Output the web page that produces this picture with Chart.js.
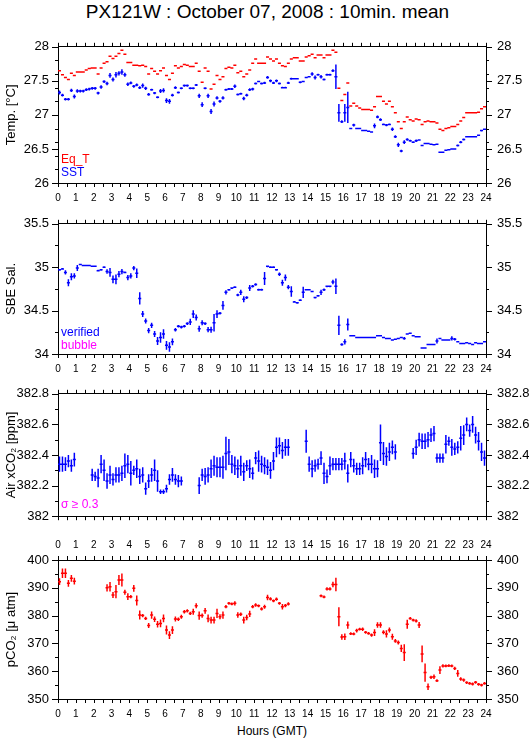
<!DOCTYPE html>
<html>
<head>
<meta charset="utf-8">
<script src="https://cdn.jsdelivr.net/npm/chart.js@4.4.0/dist/chart.umd.min.js"></script>
<style>
  body { margin: 0; background: #fff; width: 529px; height: 739px; position: relative; overflow: hidden;
         font-family: "Liberation Sans", Arial, Helvetica, sans-serif; }
  canvas { position: absolute; left: 0; }
  .txt { position: absolute; white-space: nowrap; line-height: 14px; font-size: 12px; z-index: 5; }
  #title { position: absolute; left: 0; width: 535px; text-align: center; top: 2px; font-size: 19px; line-height: 20px; }
  #xlab { position: absolute; left: 0; width: 544px; text-align: center; top: 724px; font-size: 12px; line-height: 14px; }
</style>
</head>
<body>
<div id="title">PX121W : October 07, 2008 : 10min. mean</div>
<canvas id="c1" width="529" height="177" style="top:28px"></canvas>
<canvas id="c2" width="529" height="170" style="top:205px"></canvas>
<canvas id="c3" width="529" height="160" style="top:375px"></canvas>
<canvas id="c4" width="529" height="185" style="top:535px"></canvas>
<div class="txt" style="left:61px;top:152px;color:#ff0000">Eq_T</div>
<div class="txt" style="left:61px;top:165px;color:#0000ff">SST</div>
<div class="txt" style="left:61px;top:325px;color:#0000ff">verified</div>
<div class="txt" style="left:61px;top:338px;color:#ff00ff">bubble</div>
<div class="txt" style="left:61px;top:497px;color:#ff00ff">σ ≥ 0.3</div>
<div id="xlab">Hours (GMT)</div>
<script>
// 10-minute bins, bin i centred at (i + 0.5) / 6 hours
const hourLabels = [0,1,2,3,4,5,6,7,8,9,10,11,12,13,14,15,16,17,18,19,20,21,22,23,24];

const tempTicks = [26, 26.5, 27, 27.5, 28];
const salTicks = [34, 34.5, 35, 35.5];
const xco2Ticks = [382, 382.2, 382.4, 382.6, 382.8];
const pco2Ticks = [350, 360, 370, 380, 390, 400];

const eqT = [
  27.65,27.59,27.55,27.52,27.61,27.58,27.63,27.63,27.63,27.66,
  27.68,27.69,27.69,27.60,27.69,27.76,27.78,27.86,27.83,27.86,
  27.90,27.95,27.89,27.77,27.77,27.73,27.73,27.72,27.73,27.71,
  27.60,27.68,27.64,27.60,27.65,27.69,27.58,27.52,27.61,27.72,
  27.69,27.71,27.74,27.73,27.71,27.71,27.76,27.64,27.48,27.69,
  27.64,27.38,27.45,27.58,27.52,27.56,27.68,27.70,27.69,27.73,
  27.62,27.64,27.56,27.60,27.66,27.76,27.82,27.76,27.76,27.76,
  27.85,27.82,27.79,27.82,27.76,27.72,27.71,27.76,27.82,27.84,
  27.84,27.79,27.79,27.85,27.87,27.89,27.84,27.88,27.88,27.84,
  27.88,27.88,27.95,27.92,27.39,27.21,27.30,27.47,27.13,27.17,
  27.13,27.10,27.08,27.08,27.08,27.07,27.12,27.27,27.27,27.20,
  27.16,27.20,27.12,27.03,26.90,26.80,26.90,26.97,26.93,26.91,
  26.94,26.93,26.86,26.90,26.91,26.90,26.90,26.88,26.79,26.77,
  26.80,26.81,26.83,26.83,26.86,26.91,26.96,27.03,27.03,27.03,
  27.03,27.04,27.09,27.12
];

const sst = [
  27.33,27.29,27.23,27.23,27.36,27.27,27.35,27.35,27.35,27.37,
  27.38,27.39,27.39,27.32,27.41,27.49,27.46,27.58,27.52,27.59,
  27.61,27.63,27.59,27.45,27.47,27.42,27.44,27.40,27.43,27.39,
  27.30,27.37,27.32,27.26,27.35,27.36,27.21,27.20,27.29,27.40,
  27.33,27.39,27.43,27.43,27.39,27.39,27.44,27.28,27.15,27.39,
  27.28,27.05,27.16,27.25,27.20,27.25,27.37,27.38,27.38,27.42,
  27.30,27.31,27.24,27.29,27.37,27.38,27.46,27.49,27.46,27.47,
  27.55,27.50,27.47,27.50,27.46,27.40,27.40,27.47,27.53,27.53,
  27.53,27.48,27.49,27.55,27.56,27.60,27.55,27.59,27.56,27.52,
  27.59,27.59,27.65,27.56,27.03,26.90,27.03,27.11,26.80,26.85,
  26.80,26.80,26.77,26.77,26.76,26.75,26.84,26.97,26.93,26.86,
  26.85,26.86,26.79,26.68,26.56,26.47,26.60,26.64,26.62,26.60,
  26.62,26.63,26.55,26.58,26.58,26.57,26.56,26.57,26.45,26.45,
  26.48,26.49,26.50,26.50,26.55,26.60,26.64,26.68,26.68,26.68,
  26.68,26.70,26.77,26.79
];
const sstErr = [
  0.03,0.02,0.02,0.02,0.025,0.03,0.025,0.02,0.02,0.02,
  0.02,0.02,0.02,0.02,0.025,0.02,0.025,0.035,0.03,0.04,
  0.03,0.04,0.03,0.025,0.02,0.02,0.02,0.02,0.03,0.025,
  0.02,0.015,0.015,0.015,0.03,0.03,0.035,0.035,0.02,0.02,
  0.015,0.015,0.015,0.015,0.015,0.015,0.015,0.03,0.035,0.015,
  0.03,0.035,0.035,0.025,0.02,0.025,0.015,0.015,0.015,0.025,
  0.015,0.015,0.025,0.02,0.02,0.02,0.015,0.012,0.015,0.015,
  0.02,0.02,0.015,0.02,0.015,0.012,0.012,0.015,0.015,0.012,
  0.012,0.015,0.012,0.012,0.012,0.025,0.03,0.015,0.025,0.015,
  0.015,0.015,0.02,0.18,0.13,0.02,0.13,0.23,0.01,0.02,
  0.01,0.01,0.01,0.01,0.01,0.01,0.035,0.02,0.02,0.012,
  0.015,0.012,0.025,0.02,0.03,0.02,0.028,0.018,0.015,0.012,
  0.018,0.01,0.01,0.01,0.01,0.01,0.01,0.01,0.01,0.01,
  0.01,0.01,0.01,0.01,0.015,0.015,0.015,0.01,0.01,0.01,
  0.01,0.01,0.012,0.01
];

const sal = [
  34.97,34.98,34.94,34.82,34.89,34.90,34.99,35.03,35.02,35.02,
  35.02,35.01,35.01,34.96,34.97,35.00,34.95,34.94,34.86,34.86,
  34.92,34.95,34.94,34.88,34.90,34.99,34.93,34.64,34.46,34.38,
  34.27,34.33,34.23,34.15,34.19,34.23,34.10,34.08,34.14,34.28,
  34.32,34.31,34.32,34.35,34.37,34.46,34.42,34.29,34.36,34.35,
  34.28,34.28,34.36,34.46,34.47,34.56,34.71,34.74,34.76,34.77,
  34.68,34.71,34.63,34.65,34.76,34.78,34.80,34.74,34.74,34.87,
  35.01,35.00,35.00,34.97,34.92,34.82,34.88,34.77,34.72,34.60,
  34.59,34.62,34.71,34.74,34.74,34.72,34.65,34.67,34.71,34.74,
  34.78,34.78,34.83,34.78,34.33,34.11,34.14,34.34,34.21,34.21,
  34.19,34.19,34.19,34.19,34.19,34.19,34.19,34.21,34.21,34.19,
  34.18,34.18,34.16,34.17,34.18,34.19,34.18,34.23,34.24,34.21,
  34.20,34.20,34.07,34.07,34.11,34.11,34.11,34.15,34.18,34.16,
  34.16,34.16,34.18,34.17,34.14,34.12,34.12,34.13,34.12,34.11,
  34.13,34.12,34.12,34.14
];
const salErr = [
  0.01,0.01,0.025,0.04,0.04,0.03,0.035,0.008,0.008,0.008,
  0.008,0.008,0.008,0.01,0.01,0.01,0.025,0.05,0.045,0.055,
  0.035,0.03,0.01,0.03,0.03,0.025,0.055,0.07,0.035,0.03,
  0.03,0.03,0.035,0.045,0.06,0.055,0.05,0.055,0.04,0.02,
  0.015,0.015,0.015,0.015,0.035,0.045,0.035,0.035,0.03,0.015,
  0.03,0.035,0.1,0.045,0.015,0.05,0.025,0.01,0.01,0.01,
  0.015,0.03,0.035,0.015,0.035,0.015,0.015,0.012,0.012,0.075,
  0.01,0.01,0.01,0.01,0.02,0.035,0.035,0.025,0.06,0.01,
  0.01,0.01,0.065,0.008,0.008,0.008,0.01,0.01,0.03,0.015,
  0.01,0.01,0.025,0.09,0.11,0.015,0.03,0.07,0.008,0.008,
  0.008,0.008,0.008,0.008,0.008,0.008,0.008,0.008,0.008,0.008,
  0.008,0.008,0.008,0.008,0.008,0.008,0.015,0.008,0.008,0.008,
  0.008,0.008,0.008,0.008,0.008,0.008,0.008,0.03,0.008,0.008,
  0.008,0.008,0.025,0.015,0.008,0.008,0.008,0.008,0.008,0.008,
  0.008,0.008,0.008,0.008
];

const xco2 = [
  382.34,382.34,382.34,382.36,382.33,382.37,null,null,null,null,
  null,382.27,382.26,382.25,382.34,382.30,382.23,382.27,382.24,382.27,
  382.27,382.28,382.33,382.34,382.28,382.30,382.31,382.26,382.27,382.18,
  382.23,382.27,382.30,382.23,382.16,382.16,382.18,382.24,382.27,382.24,
  382.23,382.23,null,null,null,null,null,382.20,382.27,382.26,
  382.27,382.31,382.33,382.32,382.32,382.32,382.41,382.42,382.34,382.33,
  382.31,382.33,382.29,382.33,382.31,382.28,382.38,382.36,382.34,382.33,
  382.32,382.30,382.36,382.45,382.46,382.43,382.45,382.45,null,null,
  null,null,null,382.49,382.34,382.31,382.33,382.34,382.38,382.28,
  382.26,382.33,382.34,382.34,382.34,382.34,382.36,382.28,382.37,382.33,
  382.31,382.31,382.33,382.37,382.34,382.34,382.31,382.31,382.48,382.41,
  382.39,382.42,382.45,382.42,null,null,null,null,null,382.41,
  382.45,382.50,382.49,382.49,382.50,382.53,382.54,382.38,382.38,382.38,
  382.47,382.49,382.45,382.44,382.45,382.51,382.53,382.60,382.56,382.60,
  382.53,382.49,382.42,382.38
];
const xco2Err = [
  0.05,0.05,0.045,0.04,0.04,0.045,null,null,null,null,
  null,0.04,0.03,0.06,0.06,0.07,0.05,0.06,0.04,0.05,
  0.05,0.05,0.08,0.06,0.08,0.03,0.06,0.05,0.05,0.04,
  0.045,0.045,0.07,0.07,0.015,0.015,0.025,0.035,0.045,0.035,
  0.04,0.03,null,null,null,null,null,0.055,0.04,0.055,
  0.05,0.06,0.065,0.065,0.065,0.075,0.11,0.085,0.06,0.06,
  0.06,0.065,0.06,0.035,0.06,0.04,0.04,0.07,0.055,0.055,
  0.05,0.055,0.06,0.065,0.055,0.055,0.055,0.055,null,null,
  null,null,null,0.075,0.05,0.055,0.04,0.035,0.045,0.07,
  0.045,0.06,0.04,0.04,0.04,0.04,0.055,0.06,0.05,0.045,
  0.04,0.04,0.055,0.05,0.04,0.06,0.06,0.055,0.12,0.075,
  0.06,0.06,0.045,0.05,null,null,null,null,null,0.035,
  0.05,0.045,0.05,0.05,0.05,0.045,0.05,0.03,0.03,0.03,
  0.06,0.03,0.055,0.04,0.04,0.08,0.065,0.045,0.04,0.055,
  0.055,0.06,0.06,0.05
];

const pco2 = [
  392.2,395.2,395.2,391.6,393.4,392.4,null,null,null,null,
  null,null,null,null,null,null,390.0,390.4,387.4,388.6,
  392.8,392.8,388.4,386.8,386.8,389.8,385.4,380.2,380.0,379.0,
  376.4,380.2,378.7,376.9,377.2,379.0,374.8,373.0,374.8,378.8,
  378.7,379.6,381.4,381.7,380.8,381.4,383.5,380.0,380.0,381.7,
  379.0,378.4,378.4,380.8,379.6,380.2,383.2,384.4,384.2,384.4,
  380.2,380.5,378.4,379.3,380.6,383.2,383.8,383.5,382.4,383.2,
  386.5,386.0,385.3,385.9,384.4,383.2,383.6,384.2,null,null,
  null,null,null,null,null,null,null,null,387.1,386.7,
  389.6,389.6,391.2,391.2,379.6,372.3,372.4,376.6,373.5,373.4,
  374.6,375.1,375.1,374.0,373.6,373.0,373.9,376.6,376.6,374.0,
  373.4,374.8,372.4,370.9,370.3,368.2,366.7,376.9,379.0,378.4,
  378.1,376.6,366.2,359.5,354.4,357.8,358.0,356.6,360.4,361.9,
  361.9,362.0,361.9,361.0,359.2,357.2,356.8,355.9,355.6,355.4,
  356.0,355.3,355.0,355.6
];
const pco2Err = [
  1.2,1.7,1.7,1.2,1.2,1.2,null,null,null,null,
  null,null,null,null,null,null,1.3,1.7,1.1,2.4,
  1.8,2.3,0.9,1.2,0.6,1.2,1.8,1.6,0.6,0.6,
  0.9,1.3,1.0,1.2,1.4,1.4,1.6,1.4,1.4,0.9,
  0.6,0.7,0.6,0.6,0.6,1.1,0.9,1.5,0.8,1.0,
  1.4,1.2,1.2,1.7,0.9,1.3,0.6,0.5,0.5,0.8,
  1.0,0.6,1.2,1.0,1.1,0.6,0.6,0.5,0.6,0.7,
  1.0,0.6,0.5,0.6,0.5,1.0,0.6,0.6,null,null,
  null,null,null,null,null,null,null,null,0.5,0.5,
  0.6,0.6,1.0,2.4,3.4,1.0,1.2,1.3,0.5,0.5,
  0.7,0.5,0.6,0.5,0.5,0.6,1.2,1.0,1.0,0.7,
  1.3,0.9,1.1,0.7,0.7,1.3,3.0,1.6,0.5,0.5,
  0.6,1.1,3.0,3.3,1.2,0.6,0.8,0.5,1.4,0.6,
  0.5,0.5,0.5,0.6,1.2,0.6,0.6,0.5,0.5,0.5,
  0.5,0.5,0.5,0.5
];

Chart.defaults.font.family = '"Liberation Sans", Arial, Helvetica, sans-serif';
Chart.defaults.color = '#000';

const HALF_BIN = 0.085;

// each value becomes a horizontal bar across its bin, plus a vertical error bar
function crossPoints(values, errs) {
  const pts = [];
  values.forEach((v, i) => {
    if (v === null) return;
    const t = (i + 0.5) / 6;
    pts.push({x: t - HALF_BIN, y: v}, {x: t + HALF_BIN, y: v}, {x: t, y: null});
    if (errs && errs[i]) {
      pts.push({x: t, y: v - errs[i]}, {x: t, y: v + errs[i]}, {x: t, y: null});
    }
  });
  return pts;
}

function steps(from, to, step) {
  const out = [];
  for (let v = from; v <= to + 1e-9; v += step) out.push(Math.round(v * 1000) / 1000);
  return out;
}
const near = (list, v) => list.some(m => Math.abs(m - v) < 1e-6);

const hourTickVals = steps(0, 24, 0.5);

function makePanel(id, p) {
  const yTickVals = steps(p.min, p.max, p.minorStep).concat(p.major)
    .filter((v, i, a) => a.findIndex(w => Math.abs(w - v) < 1e-6) === i).sort((a, b) => a - b);

  const xScale = (pos, labels, h) => ({
    type: 'linear', position: pos, min: 0, max: 24,
    afterBuildTicks: s => { s.ticks = hourTickVals.map(v => ({value: v})); },
    afterFit: s => { s.height = h; },
    grid: {drawOnChartArea: false, drawTicks: false},
    border: {display: true, color: '#000', width: 1},
    ticks: {display: labels, autoSkip: false, maxRotation: 0, minRotation: 0, padding: 9,
            font: {size: 10}, callback: v => near(hourLabels, v) ? String(v) : ''}
  });
  const yScale = (pos, w) => ({
    type: 'linear', position: pos, min: p.min, max: p.max,
    afterBuildTicks: s => { s.ticks = yTickVals.map(v => ({value: v})); },
    afterFit: s => { s.width = w; },
    grid: {drawOnChartArea: false, drawTicks: false},
    border: {display: true, color: '#000', width: 1},
    ticks: {autoSkip: false, padding: pos === 'left' ? 9 : 11, font: {size: 13},
            callback: v => near(p.major, v) ? String(v) : ''},
    title: {display: pos === 'left', text: p.title, font: {size: 13}, padding: {top: 4, bottom: 0}}
  });

  const outerTicks = {
    id: 'outerTicks',
    afterDraw(chart) {
      const ctx = chart.ctx;
      ctx.save();
      ctx.strokeStyle = '#000';
      ctx.lineWidth = 1;
      ctx.beginPath();
      Object.values(chart.scales).forEach(s => {
        const horiz = s.isHorizontal();
        s.ticks.forEach(t => {
          const px = Math.round(s.getPixelForValue(t.value)) + 0.5;
          const len = horiz ? 4 : (near(p.major, t.value) ? 6 : 3);
          if (s.position === 'left') { ctx.moveTo(s.right, px); ctx.lineTo(s.right - len, px); }
          else if (s.position === 'right') { ctx.moveTo(s.left, px); ctx.lineTo(s.left + len, px); }
          else if (s.position === 'bottom') { ctx.moveTo(px, s.top); ctx.lineTo(px, s.top + len); }
          else { ctx.moveTo(px, s.bottom); ctx.lineTo(px, s.bottom - len); }
        });
      });
      ctx.stroke();
      ctx.restore();
    }
  };

  return new Chart(document.getElementById(id), {
    type: 'scatter',
    data: {
      datasets: p.series.map(s => ({
        data: crossPoints(s.values, s.errs),
        showLine: true, spanGaps: false, pointRadius: 0, pointHoverRadius: 0,
        borderColor: s.color, borderWidth: 1.5, tension: 0,
        xAxisID: 'x', yAxisID: 'y'
      }))
    },
    options: {
      responsive: false, animation: false, devicePixelRatio: 1,
      layout: {padding: 0},
      plugins: {legend: {display: false}, tooltip: {enabled: false}},
      scales: {
        x: xScale('bottom', p.bottomLabels, p.bottomH),
        x2: xScale('top', p.topLabels, p.topH),
        y: yScale('left', 58),
        y2: yScale('right', 43)
      }
    },
    plugins: [outerTicks]
  });
}

makePanel('c1', {
  min: 26, max: 28, major: tempTicks, minorStep: 0.2, title: 'Temp. [°C]',
  topLabels: false, bottomLabels: true, topH: 17, bottomH: 22,
  series: [
    {values: eqT, errs: null, color: '#ff0000'},
    {values: sst, errs: sstErr, color: '#0000ff'}
  ]
});
makePanel('c2', {
  min: 34, max: 35.5, major: salTicks, minorStep: 0.25, title: 'SBE Sal.',
  topLabels: false, bottomLabels: true, topH: 12, bottomH: 21,
  series: [{values: sal, errs: salErr, color: '#0000ff'}]
});
makePanel('c3', {
  min: 382, max: 382.8, major: xco2Ticks, minorStep: 0.1, title: 'Air xCO₂ [ppm]',
  topLabels: false, bottomLabels: false, topH: 14, bottomH: 7,
  series: [{values: xco2, errs: xco2Err, color: '#0000ff'}]
});
makePanel('c4', {
  min: 350, max: 400, major: pco2Ticks, minorStep: 5, title: 'pCO₂ [μ atm]',
  topLabels: true, bottomLabels: true, topH: 25, bottomH: 21,
  series: [{values: pco2, errs: pco2Err, color: '#ff0000'}]
});
</script>
</body>
</html>
